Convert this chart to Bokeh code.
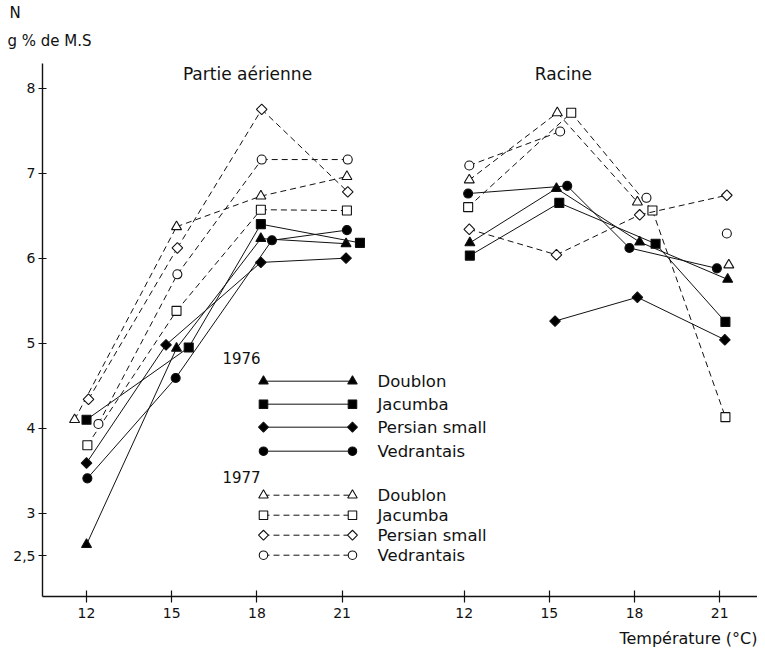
import math
from bokeh.plotting import figure
from bokeh.models import Range1d, FixedTicker, Label, Title
from bokeh.embed import file_html
from bokeh.resources import INLINE

# ---------------- data ----------------
TEMPS = [12, 15, 18, 21]
CULTIVARS = ["Doublon", "Jacumba", "Persian small", "Vedrantais"]
YEARS = ["1976", "1977"]
PANELS = ["Partie aérienne", "Racine"]
X_TICK_LABELS = ["12", "15", "18", "21"]
Y_TICKS = [2.5, 3, 4, 5, 6, 7, 8]
Y_TICK_LABELS = ["2,5", "3", "4", "5", "6", "7", "8"]
NAN = float("nan")

# Partie aérienne (N g % de M.S)
AER_1976_DOUBLON = [2.63, 4.94, 6.23, 6.17]
AER_1976_JACUMBA = [4.10, 4.95, 6.40, 6.18]
AER_1976_PERSIAN = [3.59, 4.98, 5.95, 6.00]
AER_1976_VEDRANTAIS = [3.41, 4.59, 6.21, 6.33]
AER_1977_DOUBLON = [4.10, 6.37, 6.73, 6.96]
AER_1977_JACUMBA = [3.80, 5.38, 6.57, 6.56]
AER_1977_PERSIAN = [4.34, 6.12, 7.75, 6.78]
AER_1977_VEDRANTAIS = [4.05, 5.81, 7.16, 7.16]

# Racine
RAC_1976_DOUBLON = [6.18, 6.82, 6.19, 5.75]
RAC_1976_JACUMBA = [6.03, 6.65, 6.17, 5.25]
RAC_1976_PERSIAN = [NAN, 5.26, 5.54, 5.04]
RAC_1976_VEDRANTAIS = [6.76, 6.85, 6.12, 5.88]
RAC_1977_DOUBLON = [6.92, 7.71, 6.66, 5.92]
RAC_1977_JACUMBA = [6.60, 7.71, 6.56, 4.13]
RAC_1977_PERSIAN = [6.34, 6.04, 6.51, 6.74]
RAC_1977_VEDRANTAIS = [7.09, 7.49, 6.71, 6.29]

# ---------------- display settings ----------------
PANEL_OFFSET = {"Partie aérienne": 0.0, "Racine": 13.3}
# small horizontal dodges used in the original drawing to avoid overlaps (degrees)
DODGE = {
    ("Partie aérienne", "1976"): [[0, 0.17, 0.14, 0.14], [0, 0.6, 0.14, 0.63],
                                  [0, -0.2, 0.14, 0.14], [0.03, 0.14, 0.53, 0.17]],
    ("Partie aérienne", "1977"): [[-0.42, 0.17, 0.14, 0.17], [0.03, 0.17, 0.14, 0.17],
                                  [0.07, 0.2, 0.17, 0.2], [0.42, 0.2, 0.17, 0.2]],
    ("Racine", "1976"): [[0.2, 0.25, 0.18, 0.28], [0.2, 0.35, 0.74, 0.2],
                         [0, 0.2, 0.1, 0.18], [0.14, 0.63, -0.18, -0.1]],
    ("Racine", "1977"): [[0.18, 0.28, 0.1, 0.32], [0.14, 0.77, 0.63, 0.2],
                         [0.18, 0.25, 0.18, 0.25], [0.18, 0.38, 0.42, 0.25]],
}
# which connecting segments (12-15, 15-18, 18-21) the original drawing shows
SEGMENTS = {
    ("Racine", "1977", "Doublon"): [True, True, False],
    ("Racine", "1977", "Vedrantais"): [True, False, False],
}
SERIES = {
    ("Partie aérienne", "1976"): [AER_1976_DOUBLON, AER_1976_JACUMBA, AER_1976_PERSIAN, AER_1976_VEDRANTAIS],
    ("Partie aérienne", "1977"): [AER_1977_DOUBLON, AER_1977_JACUMBA, AER_1977_PERSIAN, AER_1977_VEDRANTAIS],
    ("Racine", "1976"): [RAC_1976_DOUBLON, RAC_1976_JACUMBA, RAC_1976_PERSIAN, RAC_1976_VEDRANTAIS],
    ("Racine", "1977"): [RAC_1977_DOUBLON, RAC_1977_JACUMBA, RAC_1977_PERSIAN, RAC_1977_VEDRANTAIS],
}
# diamond drawn as a square turned by 45 degrees (as in the original)
MARKERS = {"Doublon": "triangle", "Jacumba": "square", "Persian small": "square", "Vedrantais": "circle"}
MANGLE = {"Doublon": 0.0, "Jacumba": 0.0, "Persian small": math.pi / 4, "Vedrantais": 0.0}
MSIZE = {"Doublon": 10, "Jacumba": 9, "Persian small": 7.5, "Vedrantais": 9}
YEAR_STYLE = {
    "1976": dict(fill="black", dash="solid"),
    "1977": dict(fill="white", dash="6 4"),
}
FONT = "DejaVu Sans"
INK = "#111111"

X0, X1 = 10.45, 35.63
Y0, Y1 = 2.02, 8.29

p = figure(frame_width=715, frame_height=533, output_backend="svg", toolbar_location=None,
           x_range=Range1d(X0, X1), y_range=Range1d(Y0, Y1),
           min_border_left=42, min_border_right=0, min_border_top=63, min_border_bottom=40)
p.outline_line_color = None
p.grid.visible = False
p.background_fill_color = "white"
p.border_fill_color = "white"

# y-axis title (two lines above the axis) and x-axis title (bottom right)
p.add_layout(Title(text="g % de M.S", align="left", offset=-35, standoff=28,
                   text_font=FONT, text_font_size="15px", text_font_style="normal",
                   text_color=INK), "above")
p.add_layout(Title(text="N", align="left", offset=-33, standoff=-12,
                   text_font=FONT, text_font_size="15px", text_font_style="normal",
                   text_color=INK), "above")
p.add_layout(Title(text="Température (°C)", align="right", offset=0, standoff=12,
                   text_font=FONT, text_font_size="16px", text_font_style="normal",
                   text_color=INK), "below")

# axes
xt = []
xlab = {}
for panel in PANELS:
    for t, lab in zip(TEMPS, X_TICK_LABELS):
        v = round(t + PANEL_OFFSET[panel], 2)
        xt.append(v)
        xlab[v] = lab
p.xaxis.ticker = FixedTicker(ticks=xt)
p.xaxis.major_label_overrides = xlab
p.yaxis.ticker = FixedTicker(ticks=Y_TICKS)
p.yaxis.major_label_overrides = {v: l for v, l in zip(Y_TICKS, Y_TICK_LABELS)}
for ax in (p.xaxis[0], p.yaxis[0]):
    ax.axis_line_color = INK
    ax.axis_line_width = 1.4
    ax.major_tick_line_color = INK
    ax.major_tick_line_width = 1.2
    ax.minor_tick_line_color = None
    ax.major_label_text_font = FONT
    ax.major_label_text_font_size = "14px"
    ax.major_label_text_color = INK
p.xaxis.major_tick_in = 6
p.xaxis.major_tick_out = 6
p.xaxis.major_label_standoff = 5
p.yaxis.major_tick_in = 4
p.yaxis.major_tick_out = 4
p.yaxis.major_label_standoff = 3

# series
for (panel, year), vals_list in SERIES.items():
    st = YEAR_STYLE[year]
    for ci, (cult, vals) in enumerate(zip(CULTIVARS, vals_list)):
        xs = [t + PANEL_OFFSET[panel] + d for t, d in zip(TEMPS, DODGE[(panel, year)][ci])]
        segs = SEGMENTS.get((panel, year, cult), [True, True, True])
        for k in range(3):
            if segs[k] and not (math.isnan(vals[k]) or math.isnan(vals[k + 1])):
                p.line(xs[k:k + 2], vals[k:k + 2], line_color=INK, line_width=1.0,
                       line_dash=st["dash"])
        px = [x for x, v in zip(xs, vals) if not math.isnan(v)]
        py = [v for v in vals if not math.isnan(v)]
        p.scatter(px, py, marker=MARKERS[cult], size=MSIZE[cult], angle=MANGLE[cult],
                  fill_color=st["fill"], line_color=INK, line_width=1.1)

# page-pixel -> data helpers for annotations (layout of the original page)
def dx(px):
    return 12 + (px - 86) / 28.4

def dy(py):
    return 8 - (py - 88) / 85.0

# panel titles
for panel, cx in zip(PANELS, [247, 563]):
    p.add_layout(Label(x=dx(cx), y=dy(74), text=panel, text_font=FONT, text_font_size="17px",
                       text_align="center", text_baseline="middle", text_color=INK))

# legend drawn as in the original: marker ---- marker  label
ROW_Y = {"1976": [381, 404, 427, 451], "1977": [495, 515, 535, 555]}
HEAD_Y = {"1976": 358, "1977": 477}
for year in YEARS:
    st = YEAR_STYLE[year]
    p.add_layout(Label(x=dx(222), y=dy(HEAD_Y[year]), text=year, text_font=FONT, text_font_size="15px",
                       text_baseline="middle", text_color=INK))
    for cult, ry in zip(CULTIVARS, ROW_Y[year]):
        lx = [dx(263), dx(352)]
        ly = [dy(ry), dy(ry)]
        p.line(lx, ly, line_color=INK, line_width=1.0, line_dash=st["dash"])
        p.scatter(lx, ly, marker=MARKERS[cult], size=MSIZE[cult] - 0.5, angle=MANGLE[cult],
                  fill_color=st["fill"], line_color=INK, line_width=1.1)
        p.add_layout(Label(x=dx(377), y=dy(ry), text=cult, text_font=FONT, text_font_size="16.5px",
                           text_baseline="middle", text_color=INK))

open("out.html", "w").write(file_html(p, INLINE))
